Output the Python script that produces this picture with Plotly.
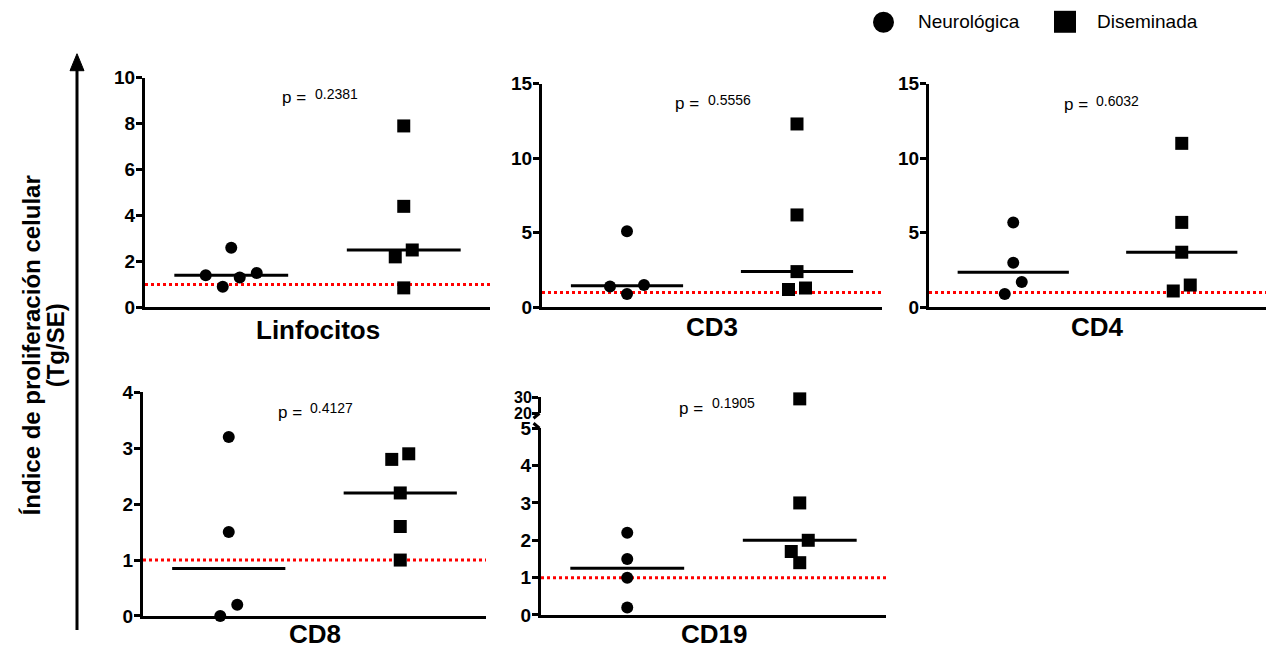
import numpy as np
import plotly.graph_objects as go

W, H = 1274, 650

# ---------------- data ----------------
panels = ["Linfocitos", "CD3", "CD4", "CD8", "CD19"]
p_values = ["0.2381", "0.5556", "0.6032", "0.4127", "0.1905"]
groups = ["Neurológica", "Diseminada"]

linf_neuro = [1.4, 0.9, 2.6, 1.3, 1.5]
linf_dis = [7.9, 4.4, 2.5, 2.2, 0.85]
cd3_neuro = [1.5, 5.1, 0.9, 1.4]
cd3_dis = [12.3, 6.2, 2.4, 1.2, 1.3]
cd4_neuro = [5.7, 3.0, 1.7, 0.9]
cd4_dis = [11.0, 5.7, 3.7, 1.1, 1.5]
cd8_neuro = [3.2, 1.5, 0.2, 0.0]
cd8_dis = [2.9, 2.8, 2.2, 1.6, 1.0]
cd19_neuro = [2.2, 1.5, 1.0, 0.2]
cd19_dis = [29.0, 3.0, 2.0, 1.4, 1.7]
threshold = 1.0

y_ranges = [[0, 10], [0, 15], [0, 15], [0, 4], [0, 5]]
y_dticks = [2, 5, 5, 1, 1]
cd19_upper_range = [20, 30]
cd19_upper_ticks = [20, 30]
y_title_1 = "Índice de proliferación celular"
y_title_2 = "(Tg/SE)"

panel_data = [(linf_neuro, linf_dis), (cd3_neuro, cd3_dis), (cd4_neuro, cd4_dis),
              (cd8_neuro, cd8_dis), (cd19_neuro, cd19_dis)]

# ---------------- layout geometry (pixels) ----------------
boxes = [(145, 490, 77, 307), (542, 882, 83, 307), (929, 1266, 83, 307),
         (143, 486, 392, 616), (541, 886, 428, 615)]
upper_box = (397, 413)
p_pos = [(280, 97, 313, 93), (673, 103, 706, 99), (1062, 104, 1094, 100),
         (276, 412, 308, 408), (677, 408, 710, 403)]
title_y = [330, 327, 327, 634, 634]
FONT = "Liberation Sans, Arial, sans-serif"
MSIZE = 12
SQSIZE = 13

# vertical mapping of target pixels to paper fraction (compensates page offset)
V_OFF, V_SCALE = 9.2, 0.969


def X(px):
    return px / W


def Y(py):
    return 1 - ((py - V_OFF) / V_SCALE) / H


def swarm(values, ppu, d=12.0, step=8.5, h=12.5):
    """Prism-like scatter spreading; returns pixel offsets."""
    vals = np.asarray(values, float)
    if len(vals) == 0:
        return np.zeros(0)
    order = list(np.argsort(-vals, kind="stable"))
    rows, i = [], 0
    while i < len(order):
        a = order[i]
        if i + 1 < len(order) and (vals[a] - vals[order[i + 1]]) * ppu < h:
            rows.append([order[i + 1], a])
            i += 2
        else:
            rows.append([a])
            i += 1
    offs = np.zeros(len(vals))
    placed = []

    def ok(cands):
        for idx, xo in cands:
            yp = vals[idx] * ppu
            for (xj, yj) in placed:
                if np.hypot(xo - xj, yp - yj) < d:
                    return False
        return True

    for row in reversed(rows):
        if len(row) == 2:
            k = 1
            while True:
                c = [(row[0], -k * step), (row[1], k * step)]
                if ok(c):
                    break
                k += 1
        else:
            seq = [0]
            for k in range(1, 20):
                seq += [k * step, -k * step]
            for s in seq:
                c = [(row[0], s)]
                if ok(c):
                    break
        for idx, xo in c:
            offs[idx] = xo
            placed.append((xo, vals[idx] * ppu))
    return offs


def bold_ticks(vals):
    return [f"<b>{v:g}</b>" for v in vals]


fig = go.Figure()
layout_axes = {}
shapes = []
annotations = []

centers = [0.5, 1.5]
symbols = ["circle", "square"]
sizes = [MSIZE, SQSIZE]
half_w = 0.33
TICKFONT = dict(family=FONT, size=19, color="black")

for i, name in enumerate(panels):
    n = i + 1
    sfx = "" if n == 1 else str(n)
    l, r, t, b = boxes[i]
    tv = list(np.arange(y_ranges[i][0], y_ranges[i][1] + y_dticks[i] / 2, y_dticks[i]))
    layout_axes["xaxis" + sfx] = dict(
        domain=[X(l), X(r)], range=[0, 2], anchor="y" + sfx, showline=True,
        linewidth=3, linecolor="black", showticklabels=False, ticks="",
        showgrid=False, zeroline=False, fixedrange=True)
    layout_axes["yaxis" + sfx] = dict(
        domain=[Y(b), Y(t)], range=y_ranges[i], tickvals=tv, ticktext=bold_ticks(tv),
        anchor="x" + sfx, showline=True, linewidth=3, linecolor="black",
        ticks="outside", ticklen=6, tickwidth=3, tickcolor="black",
        ticklabelstandoff=-3,
        tickfont=TICKFONT, showgrid=False, zeroline=False, fixedrange=True)

    ppu = (b - t) / (y_ranges[i][1] - y_ranges[i][0])
    xunit = 2.0 / (r - l)

    fig.add_trace(go.Scatter(
        x=[0, 2], y=[threshold, threshold], mode="lines", xaxis="x" + sfx, yaxis="y" + sfx,
        line=dict(color="#ff0000", width=3, dash="dot"), showlegend=False, hoverinfo="skip"))

    for g in range(2):
        vals = np.asarray(panel_data[i][g], float)
        ymax = y_ranges[i][1]
        low = vals[vals <= ymax]
        high = vals[vals > ymax]
        offs = swarm(low, ppu)
        fig.add_trace(go.Scatter(
            x=centers[g] + offs * xunit, y=low, mode="markers",
            xaxis="x" + sfx, yaxis="y" + sfx, cliponaxis=False,
            marker=dict(symbol=symbols[g], size=sizes[g], color="black", line=dict(width=0)),
            name=groups[g], showlegend=False))
        if len(high):
            up_ppu = (upper_box[1] - upper_box[0]) / (cd19_upper_range[1] - cd19_upper_range[0])
            offs_h = swarm(high, up_ppu)
            fig.add_trace(go.Scatter(
                x=centers[g] + offs_h * xunit, y=high, mode="markers",
                xaxis="x" + sfx, yaxis="y6", cliponaxis=False,
                marker=dict(symbol=symbols[g], size=sizes[g], color="black", line=dict(width=0)),
                name=groups[g], showlegend=False))
        med = float(np.median(vals))
        fig.add_trace(go.Scatter(
            x=[centers[g] - half_w, centers[g] + half_w], y=[med, med], mode="lines",
            xaxis="x" + sfx, yaxis="y" + sfx, line=dict(color="black", width=3),
            showlegend=False, hoverinfo="skip"))

    annotations.append(dict(
        text=f"<b>{name}</b>", x=X((l + r) / 2), y=Y(title_y[i]), xref="paper", yref="paper",
        xanchor="center", yanchor="middle", showarrow=False,
        font=dict(family=FONT, size=26, color="black")))
    px1, py1, px2, py2 = p_pos[i]
    annotations.append(dict(
        text="p =", x=X(px1), y=Y(py1), xref="paper", yref="paper",
        xanchor="left", yanchor="middle", showarrow=False,
        font=dict(family=FONT, size=17, color="black")))
    annotations.append(dict(
        text=p_values[i], x=X(px2), y=Y(py2), xref="paper", yref="paper",
        xanchor="left", yanchor="middle", showarrow=False,
        font=dict(family=FONT, size=14, color="black")))

# CD19 upper broken axis segment
l5, r5, t5, b5 = boxes[4]
layout_axes["yaxis6"] = dict(
    domain=[Y(upper_box[1]), Y(upper_box[0])], range=cd19_upper_range,
    tickvals=cd19_upper_ticks, ticktext=bold_ticks(cd19_upper_ticks),
    anchor="x5", showline=True, linewidth=3, linecolor="black",
    ticks="outside", ticklen=6, tickwidth=3, tickcolor="black",
    ticklabelstandoff=-3,
    tickfont=dict(family=FONT, size=16, color="black"),
    showgrid=False, zeroline=False, fixedrange=True)
ax_x = l5 - 1.5
shapes.append(dict(type="path", xref="paper", yref="paper",
                   path=f"M {X(ax_x)},{Y(upper_box[1])} L {X(ax_x - 6)},{Y(upper_box[1] + 5)}",
                   line=dict(color="black", width=3)))
shapes.append(dict(type="path", xref="paper", yref="paper",
                   path=f"M {X(ax_x - 6)},{Y(t5 - 5)} L {X(ax_x)},{Y(t5)}",
                   line=dict(color="black", width=3)))

# Big y-axis arrow
shapes.append(dict(type="line", xref="paper", yref="paper", x0=X(77), x1=X(77),
                   y0=Y(630), y1=Y(68), line=dict(color="black", width=3)))
shapes.append(dict(type="path", xref="paper", yref="paper",
                   path=f"M {X(70)},{Y(70)} L {X(84)},{Y(70)} L {X(77)},{Y(53)} Z",
                   fillcolor="black", line=dict(color="black", width=1)))
annotations.append(dict(text=f"<b>{y_title_1}</b>", x=X(31), y=Y(345), xref="paper", yref="paper",
                        textangle=-90, xanchor="center", yanchor="middle", showarrow=False,
                        font=dict(family=FONT, size=24, color="black")))
annotations.append(dict(text=f"<b>{y_title_2}</b>", x=X(55), y=Y(345), xref="paper", yref="paper",
                        textangle=-90, xanchor="center", yanchor="middle", showarrow=False,
                        font=dict(family=FONT, size=24, color="black")))

# Legend (drawn)
shapes.append(dict(type="circle", xref="paper", yref="paper", x0=X(873), x1=X(894),
                   y0=Y(32), y1=Y(11), fillcolor="black", line=dict(color="black", width=0)))
shapes.append(dict(type="rect", xref="paper", yref="paper", x0=X(1054), x1=X(1076),
                   y0=Y(32), y1=Y(10), fillcolor="black", line=dict(color="black", width=0)))
annotations.append(dict(text=groups[0], x=X(916), y=Y(21), xref="paper", yref="paper",
                        xanchor="left", yanchor="middle", showarrow=False,
                        font=dict(family=FONT, size=19, color="black")))
annotations.append(dict(text=groups[1], x=X(1095), y=Y(21), xref="paper", yref="paper",
                        xanchor="left", yanchor="middle", showarrow=False,
                        font=dict(family=FONT, size=19, color="black")))

fig.update_layout(
    width=W, height=H, margin=dict(l=0, r=0, t=0, b=0),
    paper_bgcolor="white", plot_bgcolor="white", showlegend=False,
    shapes=shapes, annotations=annotations, **layout_axes)

fig.write_html("out.html")
